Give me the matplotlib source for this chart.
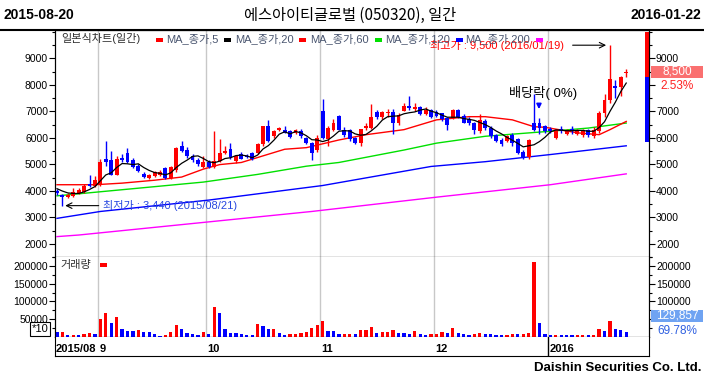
import numpy as np
import matplotlib
matplotlib.use("Agg")
import matplotlib.pyplot as plt
from matplotlib.patches import Rectangle
from matplotlib.lines import Line2D

plt.rcParams['font.family'] = ['Liberation Sans', 'Noto Sans CJK KR', 'DejaVu Sans']

# daily candles, 2015-08-20 .. 2016-01-22 (index = trading day)
opens = [4000, 3860, 3780, 3800, 3920, 3950, 4250, 4200, 4250, 5200,
         5150, 4600, 5250, 5440, 5180, 4920, 4640, 4480, 4550, 4600,
         4850, 4470, 4770, 5700, 5550, 5300, 5170, 4900, 5100, 4890,
         5140, 5440, 5570, 5110, 5380, 5320, 5440, 5440, 5750, 6430,
         6060, 6300, 6310, 6270, 6200, 6270, 6000, 5810, 5530, 7010,
         5940, 6310, 6810, 6310, 6310, 6000, 5810, 6370, 6370, 6960,
         6770, 6950, 6990, 6560, 7030, 7200, 7100, 7150, 6900, 7050,
         6990, 6930, 6740, 6740, 7070, 6830, 6700, 6560, 6250, 6620,
         6370, 6120, 5910, 5880, 6120, 5940, 5470, 5260, 6560, 6580,
         6460, 6350, 6000, 6350, 6150, 6320, 6150, 6100, 6300, 6060,
         6250, 6930, 7420, 7950, 7910, 8450]
highs = [4050, 3880, 3900, 4120, 4100, 4250, 4600, 4550, 5200, 5880,
         5500, 5300, 5400, 5630, 5250, 5000, 4700, 4650, 4750, 4800,
         4900, 4950, 5650, 5900, 5650, 5400, 5250, 5300, 5150, 6250,
         5940, 5700, 5800, 5350, 5450, 5380, 5480, 5800, 6450, 6660,
         6300, 6400, 6450, 6300, 6330, 6330, 6050, 5850, 6100, 7460,
         6450, 6700, 6850, 6400, 6350, 6050, 6350, 6550, 7270, 7050,
         7000, 7100, 7100, 6950, 7300, 7570, 7300, 7200, 7150, 7100,
         7050, 6950, 6800, 7100, 7100, 6900, 6800, 6600, 6890, 6700,
         6450, 6150, 6000, 6100, 6200, 6000, 5550, 5950, 7650, 6750,
         6500, 6400, 6350, 6450, 6350, 6450, 6350, 6350, 6350, 6400,
         7000, 7650, 9500, 8200, 8350, 8600]
lows = [3850, 3440, 3720, 3780, 3880, 3900, 4150, 4150, 4200, 4950,
        4580, 4580, 5100, 5050, 4880, 4700, 4480, 4450, 4520, 4550,
        4450, 4450, 4700, 5450, 5250, 5100, 4950, 4880, 4880, 4850,
        5100, 5400, 5200, 5050, 5200, 5250, 5180, 5400, 5700, 5850,
        6000, 6250, 6200, 6000, 6150, 6000, 5780, 5160, 5450, 5950,
        5700, 6250, 6300, 6050, 5900, 5750, 5700, 6300, 6350, 6700,
        6700, 6800, 6160, 6500, 7000, 7050, 7000, 6850, 6880, 6750,
        6800, 6650, 6300, 6700, 6750, 6550, 6500, 6150, 6200, 6300,
        6000, 5850, 5700, 5850, 5700, 5400, 5200, 5200, 6250, 6150,
        6200, 6200, 5950, 6200, 6100, 6150, 6100, 6050, 6050, 6000,
        6200, 6800, 7300, 7500, 7600, 8300]
closes = [3900, 3780, 3850, 3960, 4020, 4200, 4200, 4400, 5100, 5080,
          4600, 5200, 5150, 5080, 4900, 4750, 4520, 4600, 4700, 4720,
          4480, 4890, 5600, 5520, 5310, 5170, 5000, 5100, 4900, 5140,
          5440, 5520, 5260, 5300, 5220, 5280, 5200, 5750, 6430, 5880,
          6270, 6380, 6200, 6030, 6300, 6060, 5810, 5440, 6000, 6000,
          6370, 6560, 6310, 6120, 5940, 5810, 6330, 6460, 6800, 6800,
          6960, 6990, 6560, 6860, 7200, 7120, 7150, 6900, 7070, 6800,
          6820, 6700, 6500, 7070, 6800, 6580, 6550, 6310, 6680, 6370,
          6060, 5880, 5750, 6060, 5810, 5440, 5260, 5910, 6300, 6370,
          6250, 6250, 6310, 6250, 6300, 6250, 6300, 6300, 6100, 6310,
          6930, 7420, 8220, 7880, 8290, 8500]
volumes = [13000, 15000, 6500, 6500, 6500, 9300, 12000, 9300, 51000, 68000,
           40000, 57000, 23000, 18000, 18000, 19000, 15000, 13000, 9300, 3700,
           6500, 15000, 35000, 23000, 12000, 9300, 6500, 15000, 9300, 85000,
           68000, 23000, 12000, 12000, 9300, 6500, 6500, 37000, 32000, 23000,
           23000, 12000, 6500, 9300, 9300, 12000, 15000, 26000, 35000, 46000,
           18000, 18000, 9300, 9300, 9300, 9300, 20500, 20500, 29000, 12000,
           15000, 15000, 20500, 12000, 12000, 9300, 18000, 9300, 6500, 9300,
           9300, 15000, 12000, 26000, 12000, 9300, 6500, 9300, 12000, 9300,
           9300, 6500, 6500, 6500, 9300, 9300, 9300, 12000, 211000, 39000,
           9300, 6500, 7000, 6500, 6000, 5500, 6500, 7000, 5500, 6500,
           23000, 18000, 44000, 23000, 18600, 13000]
vol_colors = ("brbrbrrbrr" "brbbbrbbbb" "rrrbbbbrbr" "bbbbbbbrbb" "rbbrrrrrrr"
              "bbbrrbrrrb" "rrrbbbrbbr" "rrbrbbbrrb" "bbbrrbrrrb" "bbrbbbrrbr"
              "rbrbbb")

# moving averages
ma5 = [4080, 3990, 3920, 3900, 3900, 3960, 4050, 4160, 4380, 4600,
       4680, 4880, 5030, 5020, 4990, 5020, 4880, 4770, 4690, 4660,
       4600, 4680, 4880, 5040, 5160, 5300, 5320, 5220, 5100, 5060,
       5120, 5220, 5250, 5330, 5350, 5320, 5250, 5350, 5580, 5710,
       5910, 6140, 6230, 6150, 6240, 6190, 6080, 5930, 5920, 5860,
       5920, 6070, 6250, 6270, 6260, 6150, 6100, 6130, 6270, 6440,
       6670, 6800, 6820, 6830, 6910, 6950, 6980, 7050, 7090, 7010,
       6950, 6860, 6780, 6780, 6780, 6730, 6700, 6660, 6580, 6500,
       6390, 6260, 6150, 6020, 5910, 5790, 5660, 5700, 5740, 5860,
       6020, 6220, 6300, 6290, 6270, 6270, 6280, 6280, 6250, 6250,
       6390, 6610, 7000, 7350, 7750, 8070]
ma20_idx = [0, 7, 12, 18, 23, 27, 30, 34, 38, 42, 46, 52, 57, 64, 70, 76, 79, 84, 88, 90, 96, 100, 102, 105]
ma20 = [4230, 4230, 4290, 4400, 4520, 4820, 4990, 5070, 5320, 5570, 5630, 5920, 6120, 6310, 6680, 6800,
        6800, 6680, 6420, 6400, 6190, 6120, 6310, 6620]
ma60_idx = [0, 14, 27, 37, 46, 52, 64, 70, 79, 91, 98, 105]
ma60 = [3810, 4080, 4330, 4620, 4930, 5070, 5540, 5800, 6060, 6250, 6370, 6560]
ma120_idx = [0, 8, 28, 49, 69, 79, 91, 105]
ma120 = [2960, 3220, 3650, 4200, 4920, 5100, 5370, 5700]
ma200_idx = [0, 4, 47, 70, 91, 105]
ma200 = [2270, 2330, 3220, 3760, 4230, 4640]

month_starts = [8, 28, 49, 70, 91]
month_labels = ["9", "10", "11", "12", "2016"]
price_ticks = [2000, 3000, 4000, 5000, 6000, 7000, 8000, 9000]
vol_ticks = [50000, 100000, 150000, 200000]

RED = '#FF0000'
BLUE = '#0000FF'
GRID = '#C8C8C8'
W, H = 704, 381


def px_axes(fig, x0, y0, x1, y1):
    return fig.add_axes([x0 / W, 1 - y1 / H, (x1 - x0) / W, (y1 - y0) / H])


def fx(x):
    return x / W


def fy(y):
    return 1 - y / H


def add_box(fig, x0, y0, x1, y1, color):
    fig.add_artist(Rectangle((fx(x0), fy(y1)), (x1 - x0) / W, (y1 - y0) / H,
                             transform=fig.transFigure, facecolor=color,
                             edgecolor='none', zorder=5))


def style_yaxis(ax, ticks, minor, labels_left, labels_right, ylim):
    ax.set_ylim(*ylim)
    ax.set_yticks(ticks)
    ax.set_yticks(minor, minor=True)
    ax.set_yticklabels(labels_left)
    ax.tick_params(axis='y', which='major', length=4, width=0.8, labelsize=7.5, pad=1)
    ax.tick_params(axis='y', which='minor', length=2.5, width=0.8)
    # right side labels, some of them sit under the value boxes
    axr = ax.twinx()
    axr.set_ylim(*ylim)
    axr.set_yticks(ticks)
    axr.set_yticks(minor, minor=True)
    axr.set_yticklabels(labels_right)
    axr.tick_params(axis='y', which='major', length=4, width=0.8, labelsize=7.5, pad=1)
    axr.tick_params(axis='y', which='minor', length=2.5, width=0.8)
    return axr


fig = plt.figure(figsize=(W / 100, H / 100), dpi=100)
fig.patch.set_facecolor('white')

XLIM = (-0.37, 109.2)
idx = np.arange(len(closes))
o = np.array(opens)
c = np.array(closes)

# ---- price panel
ax_p = px_axes(fig, 55, 30, 649, 257)
ax_p.set_xlim(*XLIM)
for m in month_starts:
    ax_p.axvline(m - 0.5, color=GRID, lw=1, zorder=0)

up = c >= o
cols = np.where(up, RED, BLUE)
ax_p.vlines(idx, lows, highs, colors=cols, lw=1, zorder=3)
body_h = np.maximum(np.abs(c - o), 40)
ax_p.bar(idx, body_h, bottom=np.minimum(o, c), width=0.72, color=cols,
         linewidth=0, zorder=4)

ax_p.plot(ma200_idx, ma200, color='#FF00FF', lw=1, zorder=2)
ax_p.plot(ma120_idx, ma120, color=BLUE, lw=1, zorder=2)
ax_p.plot(ma60_idx, ma60, color='#00E000', lw=1, zorder=2)
ax_p.plot(ma20_idx, ma20, color=RED, lw=1, zorder=2)
ax_p.plot(idx, ma5, color='black', lw=0.9, zorder=5)

# range bar at right edge
ax_p.add_patch(Rectangle((108.5, 8300), 0.8, 1700, color=RED, lw=0, zorder=6))
ax_p.add_patch(Rectangle((108.5, 5850), 0.8, 2450, color=BLUE, lw=0, zorder=6))

ax_p.set_xticks([])
p_labels = [str(t) for t in price_ticks]
p_right = ['' if t == 8000 else str(t) for t in price_ticks]
ax_pr = style_yaxis(ax_p, price_ticks, np.arange(1500, 10001, 500),
                    p_labels, p_right, (1667, 10074))

# annotations
ax_p.text(68.8, 9500, "최고가 : 9,500 (2016/01/19)", color=RED, fontsize=8,
          va='center', ha='left', zorder=7)
ax_p.annotate('', xy=(101.8, 9500), xytext=(94.6, 9500),
              arrowprops=dict(arrowstyle='->', color='black', lw=0.8))
ax_p.text(8.4, 3440, "최저가 : 3,440 (2015/08/21)", color='#2848E0', fontsize=8,
          va='center', ha='left', zorder=7)
ax_p.annotate('', xy=(1.0, 3440), xytext=(8.2, 3440),
              arrowprops=dict(arrowstyle='->', color='black', lw=0.8))
ax_p.text(83.4, 7700, "배당락( 0%)", color='black', fontsize=9.5,
          va='center', ha='left', zorder=7)
ax_p.annotate('', xy=(88.9, 6980), xytext=(88.9, 7380),
              arrowprops=dict(arrowstyle='-|>', color=BLUE, lw=1.2,
                              mutation_scale=7))

# legend row
fig.text(fx(61), fy(39), "일본식차트(일간)", fontsize=8, color='#303030',
         va='center', ha='left')
legend = [(156, RED, 166, "MA_종가,5"), (224, 'black', 235, "MA_종가,20"),
          (299, RED, 310, "MA_종가,60"), (375, '#00E000', 385, "MA_종가,120"),
          (456, BLUE, 465, "MA_종가,200"), (536, '#FF00FF', None, None)]
for mx, mc, tx, lab in legend:
    add_box(fig, mx, 38, mx + 7, 41.5, mc)
    if lab:
        fig.text(fx(tx), fy(39), lab, fontsize=8, color='#4A5670',
                 va='center', ha='left')

# ---- volume panel
ax_v = px_axes(fig, 55, 257, 649, 337)
ax_v.set_xlim(*XLIM)
for m in month_starts:
    ax_v.axvline(m - 0.5, color=GRID, lw=1, zorder=0)
vcols = [RED if ch == 'r' else BLUE for ch in vol_colors]
ax_v.bar(idx, volumes, width=0.6, color=vcols, linewidth=0, zorder=3)
ax_v.set_xticks([])
v_labels = [str(t) for t in vol_ticks]
v_right = ['' if t == 50000 else str(t) for t in vol_ticks]
ax_vr = style_yaxis(ax_v, vol_ticks, np.arange(25000, 225001, 25000),
                    v_labels, v_right, (0, 225352))
ax_v.spines['top'].set_visible(False)
ax_vr.spines['top'].set_visible(False)
fig.text(fx(60), fy(265), "거래량", fontsize=8, color='#303030', va='center', ha='left')
add_box(fig, 100, 263, 107, 266.5, RED)
fig.text(fx(40), fy(329), "*10", fontsize=8, ha='center', va='center',
         bbox=dict(boxstyle='square,pad=0.15', fc='white', ec='black', lw=0.8))

# ---- date row
ax_d = px_axes(fig, 55, 337, 649, 356)
ax_d.set_xlim(*XLIM)
ax_d.set_ylim(0, 1)
ax_d.set_xticks([])
ax_d.set_yticks([])
ax_d.spines['top'].set_visible(False)
ax_d.text(-0.2, 0.35, "2015/08", fontsize=8, fontweight='bold', va='center', ha='left')
for m, lab in zip(month_starts, month_labels):
    ax_d.text(m - 0.2, 0.35, lab, fontsize=8, fontweight='bold', va='center', ha='left')
ax_d.axvline(month_starts[-1] - 0.5, color='black', lw=1)

# ---- right side value boxes
add_box(fig, 651, 66, 703, 78, '#FA7070')
fig.text(fx(677), fy(72), "8,500", color='white', fontsize=8.5, ha='center',
         va='center', zorder=6)
fig.text(fx(677), fy(86), "2.53%", color='#FF2020', fontsize=8.5, ha='center',
         va='center', zorder=6)
add_box(fig, 651, 310, 703, 322, '#6FA3F2')
fig.text(fx(677), fy(316), "129,857", color='white', fontsize=8.5, ha='center',
         va='center', zorder=6)
fig.text(fx(677), fy(331), "69.78%", color='#2E5FE0', fontsize=8.5, ha='center',
         va='center', zorder=6)

# ---- header / footer
fig.add_artist(Line2D([0, 1], [fy(30), fy(30)], transform=fig.transFigure,
                      color='black', lw=1.5))
fig.text(fx(3), fy(15), "2015-08-20", fontsize=10, fontweight='bold',
         ha='left', va='center')
fig.text(fx(701), fy(15), "2016-01-22", fontsize=10, fontweight='bold',
         ha='right', va='center')
fig.text(fx(350), fy(15), "에스아이티글로벌 (050320), 일간", fontsize=11,
         ha='center', va='center', family=['Noto Sans CJK KR', 'DejaVu Sans'])
fig.text(fx(701), fy(368), "Daishin Securities Co. Ltd.", fontsize=9.5,
         fontweight='bold', ha='right', va='center')

fig.savefig('out.png', dpi=100)
